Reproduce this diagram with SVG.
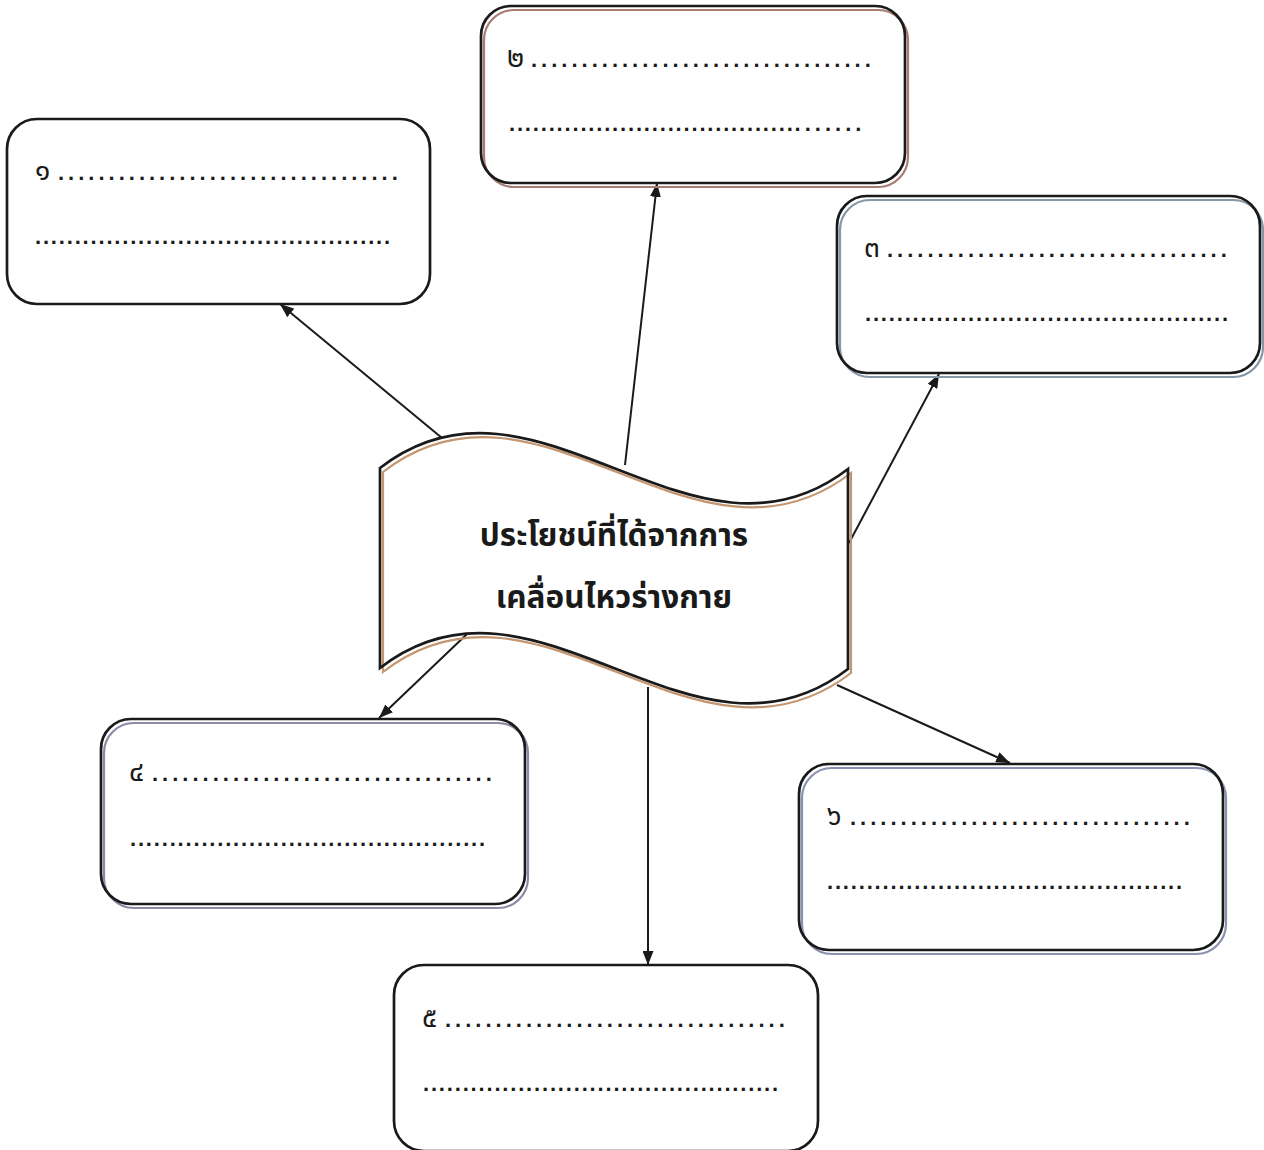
<svg xmlns="http://www.w3.org/2000/svg" width="1264" height="1150" viewBox="0 0 1264 1150">
  <style>
    .bg { fill: #ffffff; stroke: none; }
    .frame { fill: none; stroke: #1a1a1a; stroke-width: 2.7; }
    .sh { fill: none; stroke-width: 2.2; }
    .sh-brown { stroke: #a87b73; }
    .sh-steel { stroke: #8597a9; }
    .sh-plum { stroke: #8d88a5; }
    .sh-slate { stroke: #8a91b1; }
    .sh-tan { stroke: #c4956e; }
    .link { fill: none; stroke: #1a1a1a; stroke-width: 2; marker-end: url(#head); }
    .num { font-family: "Noto Sans Thai", "Noto Sans", "DejaVu Sans", sans-serif; font-size: 28px; fill: #1a1a1a; }
    .d1 { font-family: "Liberation Sans", Arial, sans-serif; font-size: 22px; font-weight: bold; letter-spacing: 4.0px; fill: #1a1a1a; }
    .d2 { font-family: "Liberation Sans", Arial, sans-serif; font-size: 22px; font-weight: bold; letter-spacing: 1.82px; fill: #1a1a1a; }
    .title { font-family: "Noto Sans Thai", "Noto Sans", "DejaVu Sans", sans-serif; font-size: 31.5px; font-weight: bold; fill: #1a1a1a; text-anchor: middle; }
  </style>
  <defs>
    <marker id="head" markerUnits="userSpaceOnUse" markerWidth="14" markerHeight="11" refX="14" refY="5.5" orient="auto">
      <path d="M0,0 L14,5.5 L0,11 Z" fill="#1a1a1a"/>
    </marker>
    <path id="wave" d="M380,468 C536,347 692,589 848,469 L848,669 C692,789 536,547 380,668 Z"/>
  </defs>

  <rect width="1264" height="1150" fill="#ffffff"/>

  <!-- connectors from the banner to each box -->
  <g id="connectors">
    <line class="link" x1="442" y1="438" x2="280" y2="304"/>
    <line class="link" x1="625" y1="465" x2="657" y2="183"/>
    <line class="link" x1="849" y1="543" x2="939" y2="374"/>
    <line class="link" x1="467" y1="634" x2="379" y2="718"/>
    <line class="link" x1="648" y1="687" x2="648" y2="965"/>
    <line class="link" x1="837" y1="685" x2="1010" y2="763"/>
  </g>

  <!-- central banner -->
  <g id="banner">
    <use href="#wave" class="bg"/>
    <use href="#wave" class="sh sh-tan" transform="translate(3,4)"/>
    <use href="#wave" class="frame"/>
    <text class="title" x="614" y="546">ประโยชน์ที่ได้จากการ</text>
    <text class="title" x="614" y="608">เคลื่อนไหวร่างกาย</text>
  </g>

  <!-- box 1 -->
  <g id="box1">
    <rect class="bg" x="7" y="119" width="423" height="185" rx="30"/>
    <rect class="frame" x="7" y="119" width="423" height="185" rx="30"/>
    <text y="180"><tspan class="num" x="35">๑</tspan><tspan class="d1" x="58">..................................</tspan></text>
    <text class="d2" x="35" y="244">.............................................</text>
  </g>

  <!-- box 2 -->
  <g id="box2">
    <rect class="bg" x="481" y="6" width="424" height="177" rx="30"/>
    <rect class="sh sh-brown" x="484" y="10" width="424" height="177" rx="30"/>
    <rect class="frame" x="481" y="6" width="424" height="177" rx="30"/>
    <text y="67"><tspan class="num" x="507">๒</tspan><tspan class="d1" x="531">..................................</tspan></text>
    <text y="131"><tspan class="d2" x="509">....................................</tspan><tspan class="d1">.......</tspan></text>
  </g>

  <!-- box 3 -->
  <g id="box3">
    <rect class="bg" x="837" y="196" width="423" height="177" rx="30"/>
    <rect class="sh sh-steel" x="840" y="200" width="423" height="177" rx="30"/>
    <rect class="frame" x="837" y="196" width="423" height="177" rx="30"/>
    <text y="257"><tspan class="num" x="864">๓</tspan><tspan class="d1" x="887">..................................</tspan></text>
    <text class="d2" x="865" y="321">..............................................</text>
  </g>

  <!-- box 4 -->
  <g id="box4">
    <rect class="bg" x="101" y="719" width="424" height="185" rx="30"/>
    <rect class="sh sh-plum" x="104" y="723" width="424" height="185" rx="30"/>
    <rect class="frame" x="101" y="719" width="424" height="185" rx="30"/>
    <text y="781"><tspan class="num" x="129">๔</tspan><tspan class="d1" x="152">..................................</tspan></text>
    <text class="d2" x="130" y="846">.............................................</text>
  </g>

  <!-- box 5 -->
  <g id="box5">
    <rect class="bg" x="394" y="965" width="424" height="186" rx="30"/>
    <rect class="frame" x="394" y="965" width="424" height="186" rx="30"/>
    <text y="1027"><tspan class="num" x="422">๕</tspan><tspan class="d1" x="445">..................................</tspan></text>
    <text class="d2" x="423" y="1091">.............................................</text>
  </g>

  <!-- box 6 -->
  <g id="box6">
    <rect class="bg" x="799" y="764" width="424" height="186" rx="30"/>
    <rect class="sh sh-slate" x="802" y="768" width="424" height="186" rx="30"/>
    <rect class="frame" x="799" y="764" width="424" height="186" rx="30"/>
    <text y="825"><tspan class="num" x="827">๖</tspan><tspan class="d1" x="850">..................................</tspan></text>
    <text class="d2" x="827" y="889">.............................................</text>
  </g>
</svg>
